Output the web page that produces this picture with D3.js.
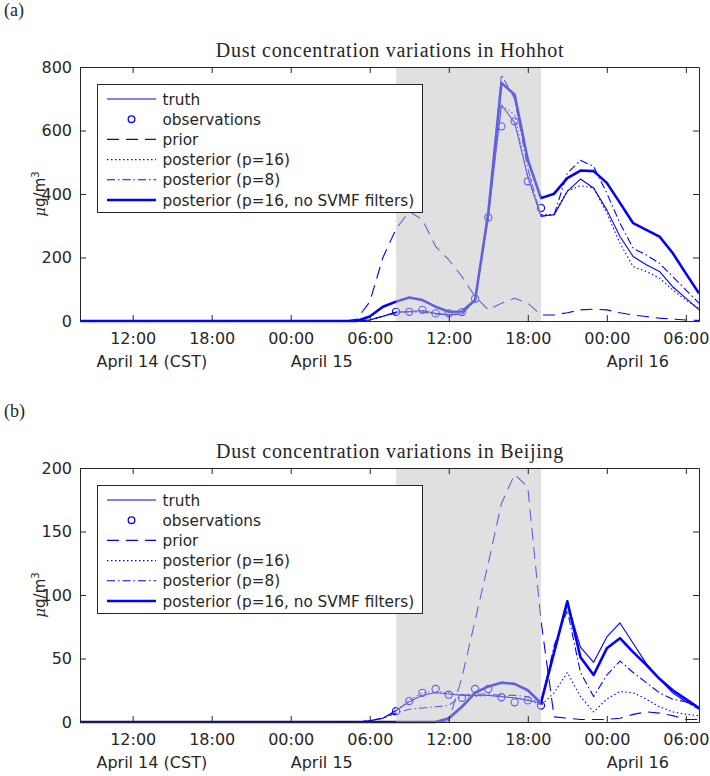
<!DOCTYPE html>
<html>
<head>
<meta charset="utf-8">
<script src="https://cdn.jsdelivr.net/npm/d3@7"></script>
<style>
  body { margin: 0; background: #fff; }
  text { fill: #262626; }
</style>
</head>
<body>
<svg id="fig" width="710" height="776"></svg>
<script>
// x = hours since April 14 08:00 CST, one value per hour
var hours = d3.range(48)
var obsHours = [24, 25, 26, 27, 28, 29, 30, 31, 32, 33, 34, 35]
var tickHours = [4, 10, 16, 22, 28, 34, 40, 46]
var tickLabels = ['12:00', '18:00', '00:00', '06:00', '12:00', '18:00', '00:00', '06:00']
var dateHours = [1.25, 16, 40]
var dateLabels = ['April 14 (CST)', 'April 15', 'April 16']
var shadeHours = [24, 35]
var legendNames = ['truth', 'observations', 'prior', 'posterior (p=16)', 'posterior (p=8)', 'posterior (p=16, no SVMF filters)']

// (a) Hohhot
var truthA = [0,0,0,0,0,0,0,0,0,0,0,0,0,0,0,0,0,0,0,0,0,
  0,3,15,28,30,33,24,20,22,68,330,680,625,455,330,335,408,447,419,350,266,203,177,156,108,72,35]
var obsA = [29, 29, 35, 24, 24, 28, 70, 326, 613, 629, 440, 356]
var priorA = [0,0,0,0,0,0,0,0,0,0,0,0,0,0,0,0,0,0,0,0,0,
  5,60,200,290,345,319,235,193,140,77,35,56,72,56,19,19,26,35,37,35,26,19,14,9,6,3,2]
var post16A = [0,0,0,0,0,0,0,0,0,0,0,0,0,0,0,0,0,0,0,0,0,
  0,3,15,25,28,30,22,18,20,65,320,680,650,450,335,335,410,426,419,340,245,171,156,135,98,66,40]
var post8A = [0,0,0,0,0,0,0,0,0,0,0,0,0,0,0,0,0,0,0,0,0,
  0,3,15,27,30,28,22,20,22,68,335,776,700,480,330,335,466,506,487,403,308,229,208,182,140,98,56]
var noSvmfA = [0,0,0,0,0,0,0,0,0,0,0,0,0,0,0,0,0,0,0,0,0,
  0,14,45,61,74,66,45,29,30,66,341,750,713,508,387,401,450,474,472,435,372,308,287,266,214,150,87]

// (b) Beijing
var truthB = [0,0,0,0,0,0,0,0,0,0,0,0,0,0,0,0,0,0,0,0,0,
  0,1,3,9,16,21,23,22,21,21,21,20,19,17,15,54,94,59,47,67,78,62,46,34,23,16,11]
var obsB = [8.5, 16.5, 23, 26, 21.5, 19, 26, 26, 19.5, 15.5, 17, 13]
var priorB = [0,0,0,0,0,0,0,0,0,0,0,0,0,0,0,0,0,0,0,0,0,
  0,0,0,0,0,0,0,1,35,80,125,172,195,185,80,4,3,2,2,2,3,6,8,7,5,2,2]
var post16B = [0,0,0,0,0,0,0,0,0,0,0,0,0,0,0,0,0,0,0,0,0,
  0,1,3,9,17,23,24,23,21,20,21,20,19,18,13,23,39,20,8,18,24,23,18,12,8,6,5]
var post8B = [0,0,0,0,0,0,0,0,0,0,0,0,0,0,0,0,0,0,0,0,0,
  0,1,3,7,10,11,12,13,21,22,22,21,21,20,14,60,88,39,20,37,48,39,31,23,18,16,10]
var noSvmfB = [0,0,0,0,0,0,0,0,0,0,0,0,0,0,0,0,0,0,0,0,0,
  0,0,0,0,0,0,0,3,12,23,28,31,30,25,15,55,95,51,37,58,66,55,45,34,25,18,11]

var BLUE = '#0000ff'
var styles = [
  { dash: null, width: 1.1 },             // truth
  { marker: true },                       // observations
  { dash: '12,7', width: 1.1 },           // prior
  { dash: '1.5,2.5', width: 1.1 },        // posterior p=16
  { dash: '8,3,1.5,3', width: 1.1 },      // posterior p=8
  { dash: null, width: 2.6 }              // no SVMF
]

var svg = d3.select('#fig')

function panel(opt) {
  var g = svg.append('g').attr('transform', 'translate(0,' + opt.dy + ')')
  var x = d3.scaleLinear().domain([0, 47]).range([80, 699])
  var y = d3.scaleLinear().domain([0, opt.ymax]).range([321, 67])

  var line = d3.line().x(function (d, i) { return x(hours[i]) }).y(function (d) { return y(d) })

  var lines = [opt.truth, null, opt.prior, opt.post16, opt.post8, opt.noSvmf]
  lines.forEach(function (s, k) {
    if (!s) return
    g.append('path').datum(s)
      .attr('d', line)
      .attr('fill', 'none')
      .attr('stroke', BLUE)
      .attr('stroke-width', styles[k].width)
      .attr('stroke-dasharray', styles[k].dash)
      .attr('stroke-linejoin', 'round')
  })

  g.selectAll('.obs').data(opt.obs).enter().append('circle')
    .attr('cx', function (d, i) { return x(obsHours[i]) })
    .attr('cy', function (d) { return y(d) })
    .attr('r', 3.6)
    .attr('fill', 'none')
    .attr('stroke', BLUE)
    .attr('stroke-width', 1.1)

  // shading sits over the curves, translucent
  g.append('rect')
    .attr('x', x(shadeHours[0])).attr('y', y(opt.ymax))
    .attr('width', x(shadeHours[1]) - x(shadeHours[0]))
    .attr('height', y(0) - y(opt.ymax))
    .attr('fill', '#c2c2c2').attr('fill-opacity', 0.5)

  // axes
  var bottom = d3.axisBottom(x).tickValues(tickHours).tickFormat(function (d, i) { return tickLabels[i] })
    .tickSizeInner(-6).tickSizeOuter(0).tickPadding(12)
  var top = d3.axisTop(x).tickValues(tickHours).tickFormat('').tickSizeInner(-6).tickSizeOuter(0)
  var left = d3.axisLeft(y).ticks(4).tickSizeInner(-6).tickSizeOuter(0).tickPadding(8)
  var right = d3.axisRight(y).ticks(4).tickFormat('').tickSizeInner(-6).tickSizeOuter(0)

  var axes = [
    g.append('g').attr('transform', 'translate(0,321)').call(bottom),
    g.append('g').attr('transform', 'translate(0,67)').call(top),
    g.append('g').attr('transform', 'translate(80,0)').call(left),
    g.append('g').attr('transform', 'translate(699,0)').call(right)
  ]
  axes.forEach(function (a) {
    a.selectAll('path, line').attr('stroke', '#262626')
    a.selectAll('text').attr('fill', '#262626')
      .style('font-family', 'DejaVu Sans').style('font-size', '16px')
  })

  g.selectAll('.date').data(dateLabels).enter().append('text')
    .attr('x', function (d, i) { return x(dateHours[i]) })
    .attr('y', 367)
    .style('font-family', 'DejaVu Sans').style('font-size', '16px')
    .text(function (d) { return d })

  // y label
  var yl = g.append('text')
    .attr('transform', 'translate(45,194) rotate(-90)')
    .attr('text-anchor', 'middle')
    .style('font-family', 'DejaVu Sans').style('font-size', '15px')
  yl.append('tspan').style('font-style', 'italic').style('font-family', 'DejaVu Serif').text('\u03bc')
  yl.append('tspan').text('g/m')
  yl.append('tspan').attr('dy', -6).style('font-size', '10px').text('3')

  // title and panel tag
  g.append('text').attr('x', 390).attr('y', 57).attr('text-anchor', 'middle')
    .style('font-family', 'Liberation Serif').style('font-size', '20px').style('letter-spacing', '0.7px')
    .text(opt.title)
  g.append('text').attr('x', 4).attr('y', 16)
    .style('font-family', 'Liberation Serif').style('font-size', '18px')
    .text(opt.tag)

  // legend
  var lg = g.append('g').attr('transform', 'translate(97,84)')
  lg.append('rect').attr('x', 0.5).attr('y', 0.5).attr('width', 325).attr('height', 128)
    .attr('fill', '#fff').attr('stroke', '#262626').attr('stroke-width', 1)
  legendNames.forEach(function (name, k) {
    var ry = 15 + k * 20.2
    var st = styles[k]
    if (st.marker) {
      lg.append('circle').attr('cx', 34.5).attr('cy', ry).attr('r', 3.3)
        .attr('fill', 'none').attr('stroke', BLUE).attr('stroke-width', 1.3)
    } else {
      lg.append('line').attr('x1', 10).attr('x2', 59).attr('y1', ry).attr('y2', ry)
        .attr('stroke', BLUE).attr('stroke-width', st.width).attr('stroke-dasharray', st.dash)
    }
    lg.append('text').attr('x', 65.5).attr('y', ry + 5.5)
      .style('font-family', 'DejaVu Sans').style('font-size', '15.3px')
      .text(name)
  })
}

panel({ dy: 0, ymax: 800, tag: '(a)', title: 'Dust concentration variations in Hohhot',
  truth: truthA, obs: obsA, prior: priorA, post16: post16A, post8: post8A, noSvmf: noSvmfA })

panel({ dy: 401, ymax: 200, tag: '(b)', title: 'Dust concentration variations in Beijing',
  truth: truthB, obs: obsB, prior: priorB, post16: post16B, post8: post8B, noSvmf: noSvmfB })
</script>
</body>
</html>
